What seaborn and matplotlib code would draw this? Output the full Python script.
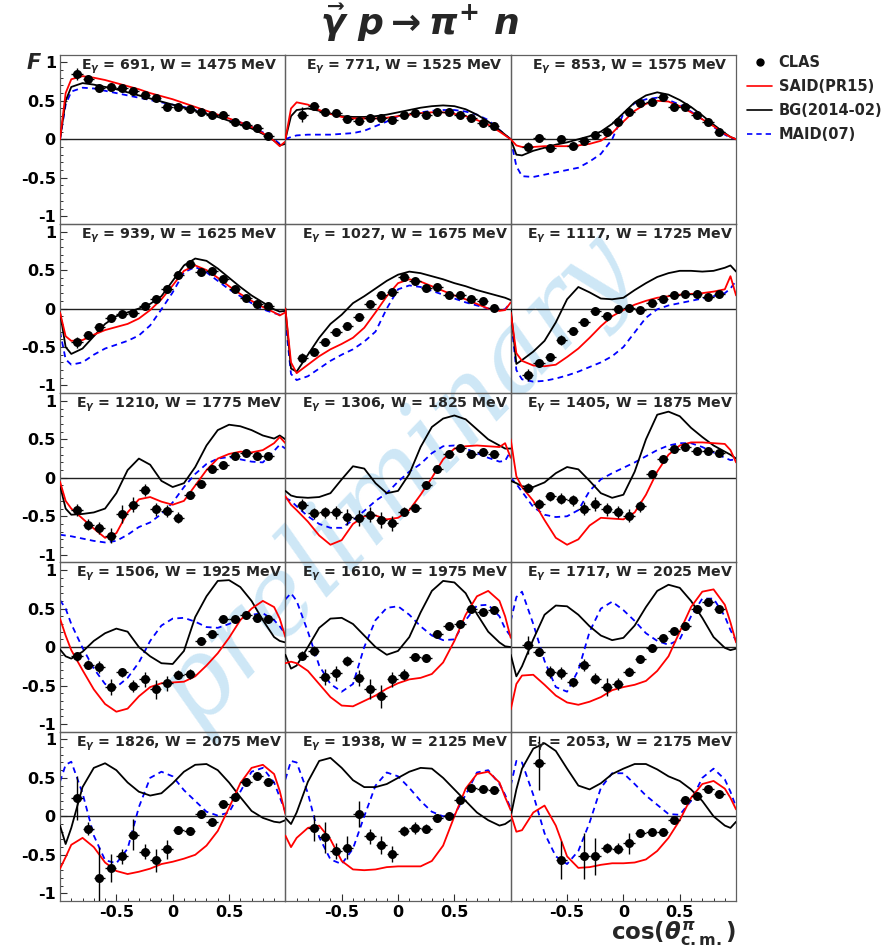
import numpy as np
import matplotlib
matplotlib.use("Agg")
import matplotlib.pyplot as plt
from matplotlib.lines import Line2D
from matplotlib.ticker import MultipleLocator, FixedLocator, FixedFormatter
import seaborn as sns

# ---------------- data ----------------
COS_BINS = [-0.85, -0.75, -0.65, -0.55, -0.45, -0.35, -0.25, -0.15, -0.05,
            0.05, 0.15, 0.25, 0.35, 0.45, 0.55, 0.65, 0.75, 0.85]
X_CURVE = [-1.0, -0.95, -0.9, -0.8, -0.7, -0.6, -0.5, -0.4, -0.3, -0.2, -0.1, 0.0,
           0.1, 0.2, 0.3, 0.4, 0.5, 0.6, 0.7, 0.8, 0.9, 0.95, 1.0]
E_GAMMA = [691, 771, 853, 939, 1027, 1117, 1210, 1306, 1405, 1506, 1610, 1717, 1826, 1938, 2053]
W_MEV = [1475, 1525, 1575, 1625, 1675, 1725, 1775, 1825, 1875, 1925, 1975, 2025, 2075, 2125, 2175]
nan = float("nan")

CLAS_F = [
    [0.85, 0.78, 0.66, 0.68, 0.67, 0.63, 0.57, 0.54, 0.42, 0.42, 0.39, 0.35, 0.31, 0.31, 0.23, 0.18, 0.14, 0.04],
    [0.32, 0.43, 0.35, 0.34, 0.26, 0.24, 0.28, 0.28, 0.25, 0.31, 0.34, 0.31, 0.36, 0.35, 0.31, 0.28, 0.21, 0.17],
    [-0.10, 0.02, -0.12, 0.0, -0.09, -0.02, 0.05, 0.10, 0.23, 0.35, 0.47, 0.48, 0.55, 0.42, 0.42, 0.32, 0.23, 0.10],
    [-0.44, -0.34, -0.24, -0.12, -0.07, -0.06, 0.03, 0.12, 0.26, 0.43, 0.58, 0.47, 0.49, 0.38, 0.25, 0.14, 0.06, 0.03],
    [-0.64, -0.57, -0.44, -0.30, -0.23, -0.11, 0.06, 0.18, 0.22, 0.41, 0.36, 0.27, 0.28, 0.17, 0.17, 0.12, 0.10, 0.01],
    [-0.86, -0.71, -0.63, -0.41, -0.29, -0.18, -0.03, -0.10, -0.01, 0.01, -0.02, 0.07, 0.12, 0.17, 0.19, 0.19, 0.15, 0.19],
    [-0.42, -0.61, -0.65, -0.75, -0.47, -0.35, -0.16, -0.41, -0.43, -0.52, -0.22, -0.08, 0.12, 0.16, 0.28, 0.32, 0.28, 0.28],
    [-0.35, -0.46, -0.45, -0.45, -0.51, -0.52, -0.48, -0.55, -0.59, -0.44, -0.39, -0.10, 0.11, 0.31, 0.39, 0.31, 0.34, 0.31],
    [-0.13, -0.34, -0.24, -0.27, -0.29, -0.40, -0.34, -0.41, -0.44, -0.49, -0.37, 0.05, 0.25, 0.37, 0.40, 0.35, 0.35, 0.32],
    [-0.12, -0.23, -0.26, -0.52, -0.33, -0.51, -0.42, -0.55, -0.47, -0.36, -0.35, 0.08, 0.17, 0.36, 0.36, 0.42, 0.38, 0.36],
    [-0.11, -0.05, -0.39, -0.34, -0.18, -0.40, -0.55, -0.64, -0.42, -0.36, -0.13, -0.14, 0.17, 0.28, 0.30, 0.49, 0.46, 0.48],
    [0.03, -0.06, -0.32, -0.34, -0.46, -0.23, -0.41, -0.52, -0.48, -0.32, -0.16, -0.01, 0.12, 0.21, 0.28, 0.49, 0.59, 0.50],
    [0.24, -0.16, -0.80, -0.67, -0.52, -0.24, -0.46, -0.57, -0.43, -0.18, -0.19, 0.03, -0.07, 0.16, 0.25, 0.44, 0.52, 0.44],
    [nan, -0.15, -0.27, -0.45, -0.41, 0.03, -0.26, -0.37, -0.49, -0.19, -0.15, -0.16, -0.02, 0.01, 0.21, 0.37, 0.36, 0.34],
    [nan, 0.69, nan, -0.57, nan, -0.51, -0.52, -0.41, -0.42, -0.35, -0.21, -0.20, -0.20, -0.05, 0.21, 0.26, 0.36, 0.29],
]

CLAS_ERR = [
    [0.08, 0.05, 0.03, 0.03, 0.03, 0.03, 0.03, 0.03, 0.03, 0.03, 0.03, 0.03, 0.03, 0.03, 0.04, 0.03, 0.03, 0.03],
    [0.10, 0.04, 0.03, 0.03, 0.03, 0.03, 0.03, 0.03, 0.03, 0.03, 0.03, 0.03, 0.03, 0.03, 0.03, 0.03, 0.03, 0.03],
    [0.06, 0.03, 0.03, 0.03, 0.03, 0.03, 0.03, 0.03, 0.03, 0.03, 0.03, 0.03, 0.03, 0.03, 0.03, 0.03, 0.03, 0.03],
    [0.07, 0.04, 0.04, 0.03, 0.03, 0.03, 0.03, 0.03, 0.03, 0.03, 0.04, 0.03, 0.03, 0.03, 0.03, 0.03, 0.03, 0.03],
    [0.06, 0.04, 0.04, 0.03, 0.03, 0.03, 0.03, 0.04, 0.04, 0.03, 0.03, 0.03, 0.03, 0.03, 0.03, 0.03, 0.03, 0.03],
    [0.08, 0.05, 0.05, 0.06, 0.05, 0.05, 0.05, 0.06, 0.05, 0.05, 0.04, 0.04, 0.03, 0.03, 0.03, 0.03, 0.03, 0.03],
    [0.08, 0.07, 0.08, 0.10, 0.12, 0.10, 0.08, 0.08, 0.08, 0.07, 0.05, 0.05, 0.04, 0.04, 0.04, 0.04, 0.04, 0.04],
    [0.08, 0.07, 0.07, 0.08, 0.10, 0.10, 0.10, 0.10, 0.10, 0.06, 0.06, 0.05, 0.05, 0.04, 0.04, 0.04, 0.04, 0.04],
    [0.06, 0.06, 0.06, 0.07, 0.07, 0.08, 0.09, 0.08, 0.08, 0.08, 0.07, 0.05, 0.04, 0.04, 0.04, 0.04, 0.04, 0.04],
    [0.06, 0.06, 0.08, 0.10, 0.06, 0.08, 0.10, 0.12, 0.10, 0.06, 0.06, 0.05, 0.04, 0.04, 0.04, 0.04, 0.04, 0.04],
    [0.06, 0.06, 0.10, 0.10, 0.06, 0.10, 0.13, 0.15, 0.10, 0.07, 0.05, 0.05, 0.04, 0.04, 0.04, 0.04, 0.04, 0.04],
    [0.12, 0.06, 0.08, 0.08, 0.06, 0.08, 0.07, 0.12, 0.08, 0.06, 0.05, 0.05, 0.04, 0.04, 0.04, 0.04, 0.04, 0.04],
    [0.29, 0.08, 0.40, 0.18, 0.10, 0.20, 0.10, 0.15, 0.12, 0.05, 0.05, 0.05, 0.05, 0.04, 0.04, 0.04, 0.04, 0.04],
    [nan, 0.17, 0.20, 0.10, 0.15, 0.17, 0.10, 0.12, 0.10, 0.06, 0.08, 0.06, 0.05, 0.04, 0.04, 0.04, 0.04, 0.04],
    [nan, 0.35, nan, 0.25, nan, 0.30, 0.24, 0.07, 0.07, 0.14, 0.05, 0.05, 0.05, 0.05, 0.04, 0.04, 0.04, 0.04],
]

SAID_PR15 = [
    [0.0, 0.6, 0.78, 0.82, 0.80, 0.77, 0.73, 0.69, 0.65, 0.60, 0.56, 0.52, 0.47, 0.42, 0.37, 0.32, 0.27, 0.22, 0.16, 0.08, -0.02, -0.09, -0.03],
    [0.0, 0.4, 0.48, 0.45, 0.38, 0.33, 0.29, 0.27, 0.27, 0.27, 0.28, 0.30, 0.32, 0.34, 0.35, 0.35, 0.33, 0.30, 0.25, 0.19, 0.10, 0.05, 0.0],
    [0.0, -0.08, -0.10, -0.10, -0.09, -0.09, -0.09, -0.08, -0.06, -0.02, 0.08, 0.23, 0.37, 0.46, 0.50, 0.49, 0.43, 0.35, 0.26, 0.17, 0.07, 0.03, 0.0],
    [-0.05, -0.36, -0.42, -0.41, -0.34, -0.28, -0.24, -0.20, -0.13, -0.02, 0.12, 0.30, 0.49, 0.56, 0.50, 0.40, 0.29, 0.19, 0.10, 0.02, -0.05, -0.09, -0.05],
    [0.0, -0.7, -0.84, -0.73, -0.62, -0.53, -0.46, -0.38, -0.25, -0.05, 0.16, 0.33, 0.38, 0.35, 0.29, 0.23, 0.17, 0.12, 0.06, 0.0, -0.03, -0.02, 0.08],
    [-0.05, -0.58, -0.68, -0.74, -0.75, -0.73, -0.63, -0.52, -0.38, -0.23, -0.10, -0.02, 0.05, 0.10, 0.14, 0.16, 0.18, 0.19, 0.20, 0.22, 0.25, 0.42, 0.17],
    [-0.05, -0.3, -0.4, -0.53, -0.66, -0.78, -0.72, -0.45, -0.28, -0.25, -0.31, -0.35, -0.3, -0.1, 0.1, 0.25, 0.31, 0.34, 0.33, 0.36, 0.45, 0.53, 0.45],
    [-0.24, -0.35, -0.42, -0.57, -0.75, -0.87, -0.81, -0.6, -0.5, -0.49, -0.54, -0.52, -0.42, -0.22, 0.0, 0.24, 0.38, 0.41, 0.42, 0.41, 0.40, 0.45, 0.26],
    [0.5, 0.02, -0.12, -0.3, -0.55, -0.78, -0.87, -0.8, -0.62, -0.52, -0.53, -0.54, -0.45, -0.22, 0.08, 0.3, 0.42, 0.46, 0.46, 0.45, 0.44, 0.36, 0.2],
    [0.37, 0.15, -0.04, -0.3, -0.55, -0.74, -0.84, -0.8, -0.64, -0.52, -0.47, -0.46, -0.45, -0.38, -0.24, -0.08, 0.12, 0.35, 0.5, 0.6, 0.52, 0.37, 0.13],
    [-0.21, -0.19, -0.21, -0.31, -0.48, -0.65, -0.76, -0.77, -0.7, -0.63, -0.54, -0.47, -0.42, -0.4, -0.35, -0.2, 0.08, 0.42, 0.66, 0.73, 0.6, 0.4, 0.12],
    [-0.81, -0.48, -0.37, -0.36, -0.49, -0.63, -0.72, -0.75, -0.71, -0.65, -0.56, -0.52, -0.49, -0.44, -0.31, -0.12, 0.2, 0.52, 0.72, 0.75, 0.55, 0.32, 0.06],
    [-0.68, -0.53, -0.37, -0.28, -0.4, -0.6, -0.71, -0.75, -0.72, -0.68, -0.62, -0.59, -0.55, -0.5, -0.38, -0.19, 0.11, 0.43, 0.63, 0.67, 0.55, 0.33, 0.03],
    [-0.25, -0.4, -0.28, -0.15, -0.12, -0.3, -0.58, -0.69, -0.7, -0.69, -0.66, -0.65, -0.65, -0.65, -0.58, -0.38, 0.0, 0.36, 0.55, 0.58, 0.44, 0.25, 0.08],
    [0.03, -0.2, -0.18, 0.05, 0.14, -0.12, -0.52, -0.67, -0.66, -0.63, -0.61, -0.61, -0.6, -0.56, -0.45, -0.28, -0.05, 0.24, 0.42, 0.46, 0.36, 0.24, 0.09],
]

BG_2014 = [
    [0.0, 0.5, 0.68, 0.73, 0.71, 0.68, 0.65, 0.61, 0.57, 0.53, 0.49, 0.45, 0.41, 0.37, 0.33, 0.29, 0.24, 0.19, 0.14, 0.07, -0.02, -0.08, -0.06],
    [0.0, 0.3, 0.38, 0.40, 0.37, 0.33, 0.30, 0.29, 0.29, 0.30, 0.32, 0.35, 0.38, 0.41, 0.43, 0.44, 0.43, 0.39, 0.32, 0.23, 0.12, 0.06, 0.0],
    [0.0, -0.2, -0.21, -0.15, -0.11, -0.07, -0.04, 0.0, 0.04, 0.1, 0.2, 0.34, 0.48, 0.57, 0.61, 0.58, 0.51, 0.42, 0.31, 0.19, 0.08, 0.03, 0.0],
    [-0.05, -0.5, -0.59, -0.52, -0.36, -0.2, -0.1, -0.05, 0.0, 0.06, 0.16, 0.36, 0.56, 0.65, 0.62, 0.52, 0.40, 0.28, 0.17, 0.08, -0.01, -0.04, -0.03],
    [0.0, -0.78, -0.82, -0.6, -0.38, -0.2, -0.08, 0.07, 0.16, 0.26, 0.36, 0.44, 0.48, 0.46, 0.42, 0.38, 0.33, 0.29, 0.24, 0.2, 0.16, 0.14, 0.11],
    [0.0, -0.72, -0.67, -0.56, -0.42, -0.18, 0.12, 0.28, 0.21, 0.13, 0.12, 0.14, 0.24, 0.33, 0.41, 0.46, 0.49, 0.49, 0.48, 0.49, 0.53, 0.56, 0.48],
    [-0.1, -0.4, -0.48, -0.47, -0.45, -0.4, -0.2, 0.1, 0.25, 0.17, -0.04, -0.12, -0.07, 0.14, 0.42, 0.62, 0.69, 0.67, 0.62, 0.55, 0.51, 0.55, 0.5],
    [-0.17, -0.23, -0.25, -0.26, -0.25, -0.2, -0.02, 0.15, 0.12, -0.07, -0.2, -0.17, 0.05, 0.4, 0.66, 0.77, 0.81, 0.76, 0.63, 0.5, 0.42, 0.38, 0.38],
    [-0.04, -0.07, -0.11, -0.12, -0.06, 0.06, 0.14, 0.11, -0.04, -0.2, -0.26, -0.22, 0.08, 0.5, 0.82, 0.86, 0.8, 0.65, 0.53, 0.42, 0.34, 0.3, 0.25],
    [-0.03, -0.12, -0.15, -0.06, 0.08, 0.18, 0.24, 0.2, 0.0, -0.12, -0.21, -0.22, -0.05, 0.39, 0.66, 0.86, 0.87, 0.78, 0.6, 0.35, 0.13, 0.08, 0.06],
    [-0.1, -0.28, -0.24, 0.0, 0.25, 0.37, 0.38, 0.3, 0.15, 0.0, -0.1, -0.05, 0.13, 0.45, 0.73, 0.86, 0.84, 0.7, 0.43, 0.2, 0.06, 0.01, 0.0],
    [-0.1, -0.38, -0.25, 0.1, 0.42, 0.54, 0.53, 0.42, 0.27, 0.15, 0.09, 0.12, 0.28, 0.52, 0.73, 0.81, 0.77, 0.6, 0.38, 0.13, -0.01, -0.04, -0.02],
    [-0.12, -0.36, -0.15, 0.38, 0.63, 0.69, 0.6, 0.44, 0.32, 0.27, 0.3, 0.43, 0.58, 0.67, 0.68, 0.6, 0.44, 0.25, 0.07, -0.02, -0.07, -0.08, -0.05],
    [-0.02, -0.1, 0.05, 0.45, 0.72, 0.76, 0.63, 0.47, 0.38, 0.38, 0.42, 0.5, 0.58, 0.63, 0.62, 0.5, 0.35, 0.2, 0.05, -0.05, -0.12, -0.1, -0.05],
    [0.0, 0.35, 0.62, 0.88, 0.95, 0.85, 0.62, 0.4, 0.35, 0.43, 0.55, 0.62, 0.68, 0.68, 0.61, 0.52, 0.46, 0.35, 0.2, 0.0, -0.12, -0.15, -0.07],
]

MAID_07 = [
    [0.0, 0.45, 0.62, 0.67, 0.66, 0.63, 0.60, 0.57, 0.54, 0.51, 0.48, 0.45, 0.42, 0.38, 0.34, 0.30, 0.26, 0.22, 0.16, 0.09, 0.0, -0.06, -0.05],
    [0.0, 0.03, 0.05, 0.06, 0.06, 0.06, 0.07, 0.08, 0.11, 0.17, 0.23, 0.30, 0.33, 0.35, 0.37, 0.38, 0.38, 0.36, 0.32, 0.25, 0.12, 0.06, 0.0],
    [0.0, -0.35, -0.48, -0.49, -0.46, -0.43, -0.40, -0.37, -0.29, -0.19, 0.0, 0.33, 0.47, 0.52, 0.54, 0.51, 0.45, 0.36, 0.26, 0.16, 0.06, 0.02, 0.0],
    [-0.3, -0.66, -0.73, -0.7, -0.6, -0.52, -0.47, -0.42, -0.35, -0.22, -0.01, 0.21, 0.47, 0.54, 0.47, 0.36, 0.25, 0.16, 0.07, -0.01, -0.06, -0.08, -0.04],
    [-0.15, -0.85, -0.93, -0.88, -0.78, -0.68, -0.6, -0.53, -0.43, -0.3, 0.0, 0.25, 0.3, 0.28, 0.23, 0.18, 0.13, 0.08, 0.04, 0.0, -0.02, -0.01, 0.08],
    [-0.1, -0.8, -0.92, -0.95, -0.94, -0.91, -0.87, -0.82, -0.76, -0.7, -0.62, -0.5, -0.31, -0.12, -0.01, 0.04, 0.07, 0.1, 0.13, 0.16, 0.2, 0.26, 0.36],
    [-0.74, -0.75, -0.76, -0.79, -0.82, -0.84, -0.82, -0.74, -0.64, -0.58, -0.47, -0.32, -0.12, 0.05, 0.18, 0.25, 0.27, 0.24, 0.21, 0.2, 0.35, 0.43, 0.38],
    [-0.26, -0.3, -0.37, -0.5, -0.6, -0.65, -0.65, -0.55, -0.43, -0.3, -0.2, -0.05, 0.08, 0.18, 0.32, 0.41, 0.42, 0.38, 0.32, 0.26, 0.21, 0.22, 0.35],
    [0.0, -0.08, -0.18, -0.38, -0.48, -0.51, -0.5, -0.42, -0.17, -0.02, 0.06, 0.13, 0.2, 0.28, 0.36, 0.42, 0.45, 0.45, 0.4, 0.33, 0.26, 0.23, 0.24],
    [0.61, 0.5, 0.3, -0.01, -0.28, -0.48, -0.52, -0.4, -0.2, 0.08, 0.28, 0.37, 0.38, 0.33, 0.26, 0.25, 0.3, 0.37, 0.42, 0.44, 0.35, 0.27, 0.17],
    [0.62, 0.7, 0.6, 0.2, -0.24, -0.48, -0.58, -0.48, 0.0, 0.35, 0.51, 0.53, 0.42, 0.27, 0.15, 0.09, 0.1, 0.35, 0.54, 0.55, 0.4, 0.24, 0.14],
    [0.34, 0.65, 0.72, 0.3, -0.18, -0.52, -0.58, -0.3, 0.2, 0.5, 0.59, 0.48, 0.34, 0.18, 0.08, 0.03, 0.1, 0.4, 0.63, 0.63, 0.4, 0.22, 0.08],
    [0.45, 0.67, 0.71, 0.3, -0.25, -0.57, -0.61, -0.42, 0.12, 0.5, 0.58, 0.52, 0.34, 0.2, 0.06, 0.01, 0.05, 0.32, 0.58, 0.63, 0.44, 0.25, 0.06],
    [0.48, 0.72, 0.7, 0.3, -0.27, -0.56, -0.62, -0.42, 0.0, 0.4, 0.57, 0.52, 0.37, 0.2, 0.06, 0.0, 0.02, 0.28, 0.57, 0.6, 0.42, 0.28, 0.1],
    [0.4, 0.72, 0.7, 0.28, -0.22, -0.52, -0.62, -0.45, -0.08, 0.37, 0.56, 0.56, 0.42, 0.27, 0.15, 0.03, 0.02, 0.2, 0.5, 0.62, 0.48, 0.32, 0.12],
]

LEGEND_LABELS = ["CLAS", "SAID(PR15)", "BG(2014-02)", "MAID(07)"]
Y_TICKS = [-1, -0.5, 0, 0.5, 1]
Y_TICK_LABELS = ["-1", "-0.5", "0", "0.5", "1"]
X_TICKS = [-0.5, 0, 0.5]
X_TICK_LABELS = ["-0.5", "0", "0.5"]

# ---------------- style ----------------
sns.set_theme(style="white")
plt.rcParams["font.family"] = ["DejaVu Sans"]
plt.rcParams["font.weight"] = "bold"
plt.rcParams["axes.unicode_minus"] = False
plt.rcParams["mathtext.fontset"] = "dejavusans"

RED = "#ff0000"
BLUE = "#0000ff"
BLACK = "#000000"
FRAME = "#606060"

fig = plt.figure(figsize=(8.89, 9.5), dpi=100)
fig.patch.set_facecolor("white")
gs = fig.add_gridspec(5, 3, left=0.0675, right=0.828, top=0.9425, bottom=0.0516,
                      wspace=0.0, hspace=0.0)

for i in range(15):
    r, c = divmod(i, 3)
    ax = fig.add_subplot(gs[r, c])
    ax.patch.set_alpha(0.0)
    ax.set_xlim(-1.0, 1.0)
    ax.set_ylim(-1.1, 1.1)

    ax.axhline(0.0, color="#202020", lw=1.0, zorder=1)

    sns.lineplot(x=X_CURVE, y=MAID_07[i], ax=ax, color=BLUE, linewidth=1.3,
                 linestyle=(0, (3.2, 2.4)), estimator=None, sort=False, legend=False, zorder=2)
    sns.lineplot(x=X_CURVE, y=BG_2014[i], ax=ax, color=BLACK, linewidth=1.3,
                 estimator=None, sort=False, legend=False, zorder=3)
    sns.lineplot(x=X_CURVE, y=SAID_PR15[i], ax=ax, color=RED, linewidth=1.3,
                 estimator=None, sort=False, legend=False, zorder=3)

    ax.errorbar(COS_BINS, CLAS_F[i], yerr=CLAS_ERR[i], xerr=0.05, fmt="none",
                ecolor=BLACK, elinewidth=1.0, capsize=0, zorder=4)
    sns.scatterplot(x=COS_BINS, y=CLAS_F[i], ax=ax, color=BLACK, s=42,
                    linewidth=0, zorder=5, legend=False)

    ax.text(0.53, 0.93, r"E$_{\gamma}$ = %d, W = %d MeV" % (E_GAMMA[i], W_MEV[i]),
            transform=ax.transAxes, ha="center", va="center", fontsize=10.2,
            fontweight="bold", zorder=6)

    for s in ax.spines.values():
        s.set_color(FRAME)
        s.set_linewidth(0.9)

    ax.set_xlabel("")
    ax.set_ylabel("")
    # ticks
    ax.yaxis.set_major_locator(FixedLocator(Y_TICKS))
    ax.yaxis.set_minor_locator(MultipleLocator(0.1))
    ax.xaxis.set_major_locator(FixedLocator(X_TICKS))
    ax.xaxis.set_minor_locator(MultipleLocator(0.1))
    ax.tick_params(which="both", direction="in", colors="#303030",
                   top=False, right=False, left=(c == 0), bottom=(r == 4),
                   labelleft=(c == 0), labelbottom=(r == 4))
    ax.tick_params(which="major", length=5, width=0.8, pad=3)
    ax.tick_params(which="minor", length=2.5, width=0.7)
    if c == 0:
        ax.yaxis.set_major_formatter(FixedFormatter(Y_TICK_LABELS))
        for t in ax.get_yticklabels():
            t.set_fontsize(11.5)
            t.set_fontweight("bold")
            t.set_color("black")
    if r == 4:
        ax.xaxis.set_major_formatter(FixedFormatter(X_TICK_LABELS))
        for t in ax.get_xticklabels():
            t.set_fontsize(11.5)
            t.set_fontweight("bold")
            t.set_color("black")

# figure texts
fig.text(0.472, 0.976, r"$\vec{\gamma}\ \mathbfit{p} \rightarrow \pi^{\mathbf{+}}\ \mathbfit{n}$",
         ha="center", va="center", fontsize=26)
fig.text(0.038, 0.934, "F", ha="center", va="center", fontsize=15,
         fontweight="bold", style="italic")
fig.text(0.828, 0.011, r"$\mathbf{cos(}\theta^{\pi}_{\mathbf{c.m.}}\mathbf{)}$",
         ha="right", va="baseline", fontsize=16.5)

# watermark
fig.text(0.444, 0.495, "preliminary", rotation=46, fontsize=78, color="#9dd0ee",
         alpha=0.5, ha="center", va="center", style="italic", fontweight="normal",
         family="DejaVu Serif", zorder=-1)

handles = [
    Line2D([], [], marker="o", color=BLACK, ls="none", ms=5),
    Line2D([], [], color=RED, lw=1.2),
    Line2D([], [], color=BLACK, lw=1.2),
    Line2D([], [], color=BLUE, lw=1.2, ls=(0, (3.2, 2.4))),
]
fig.legend(handles, LEGEND_LABELS, loc="upper left", bbox_to_anchor=(0.834, 0.948),
           frameon=False, prop={"size": 10.5, "weight": "bold"}, handlelength=1.7,
           handletextpad=0.45, labelspacing=0.62, borderaxespad=0.0)

fig.savefig("out.png", dpi=100, facecolor="white")
